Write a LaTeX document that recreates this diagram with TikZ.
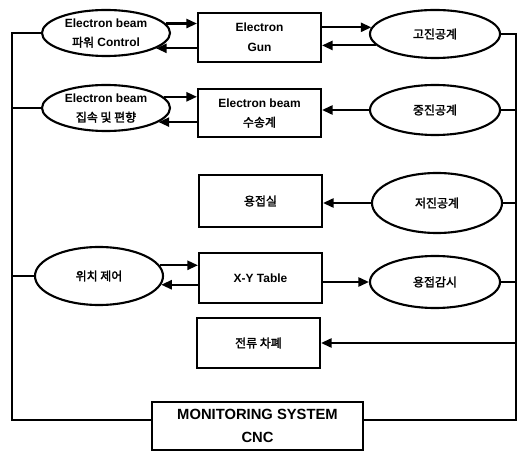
\documentclass[tikz,border=0pt]{standalone}
\usepackage{fontspec}
\setmainfont{Liberation Sans}
\newfontfamily\kr{Noto Sans CJK KR}[AutoFakeBold=2]
\usetikzlibrary{
    arrows.meta,
    shapes.geometric,
    positioning,
    calc
}
\tikzset{
    % Lines
    line style/.style={line width=1.5pt},
    arrow tip/.tip={Triangle[length=7.5pt,width=6.5pt]},
    arr/.style={line style,-{arrow tip}},
    %
    % Nodes
    block/.style={draw,line style,minimum width=3.075cm,minimum height=1.225cm,inner sep=0pt,align=center},
    oval/.style={draw,ellipse,line style,minimum width=3.2cm,minimum height=1.15cm,inner sep=0pt,align=center},
    big text/.style={font=\bfseries\fontsize{10.5}{16}\selectfont}
}
\tikzstyle{every node}=[font=\bfseries\fontsize{8.5}{14}\selectfont]

\begin{document}
\begin{tikzpicture}[x=0.025cm,y=-0.025cm]
    \useasboundingbox (0,0) rectangle (519,452);
    % left column
    \node[oval] (power) at (106,33) {Electron beam\\{\kr 파워} Control};
    \node[oval] (focus) at (106,108) {Electron beam\\{\kr 집속 및 편향}};
    \node[oval,minimum height=1.45cm] (place) at (99,276) {\kr 위치 제어};
    % middle column
    \node[block] (gun) at (259.5,37.5) {Electron\\Gun};
    \node[block,minimum height=1.2cm] (trans) at (259.5,113) {Electron beam\\{\kr 수송계}};
    \node[block,minimum height=1.3cm] (room) at (260.5,201) {\kr 용접실};
    \node[block,minimum height=1.25cm] (table) at (260.5,278) {X-Y Table};
    \node[block,minimum height=1.25cm] (cut) at (258.5,343) {\kr 전류 차폐};
    \node[block,big text,minimum width=5.275cm,minimum height=1.2cm] (cnc) at (257.5,426) {MONITORING SYSTEM\\CNC};
    % right column
    \node[oval,minimum width=3.25cm,minimum height=1.2cm] (high) at (435,34) {\kr 고진공계};
    \node[oval,minimum width=3.25cm,minimum height=1.25cm] (mid) at (435,110) {\kr 중진공계};
    \node[oval,minimum width=3.25cm,minimum height=1.5cm] (low) at (437,203) {\kr 저진공계};
    \node[oval,minimum width=3.25cm,minimum height=1.3cm] (watch) at (435,282) {\kr 용접감시};
    % bus lines
    \coordinate (lt) at (12,33);
    \coordinate (lb) at (12,420);
    \coordinate (rt) at (516,34);
    \coordinate (rb) at (516,420);

    \draw[line style] (power.west) -- (lt) -- (lb) -- (lb -| cnc.west);
    \draw[line style] (focus.west) -- (focus.west -| lb);
    \draw[line style] (place.west) -- (place.west -| lb);
    \draw[line style] (high.east) -- (rt) -- (rb) -- (rb -| cnc.east);
    \draw[line style] (mid.east) -- (mid.east -| rb);
    \draw[line style] (low.east) -- (low.east -| rb);
    \draw[line style] (watch.east) -- (watch.east -| rb);
    \draw[arr] (cut.east -| rb) -- (cut.east);

    % arrows left
    \draw[arr] (power.9) -- (power.9 -| gun.west);
    \draw[arr] (gun.west |- power.343) -- (power.343);
    \draw[arr] (focus.11) -- (focus.11 -| trans.west);
    \draw[arr] (trans.west |- focus.345) -- (focus.345);
    \draw[arr] (place.10) -- (place.10 -| table.west);
    \draw[arr] (table.west |- place.352) -- (place.352);
    % arrows right
    \draw[arr] (high.174 -| gun.east) -- (high.174);
    \draw[arr] (high.191) -- (high.191 -| gun.east);
    \draw[arr] (mid.west) -- (mid.west -| trans.east);
    \draw[arr] (low.west) -- (low.west -| room.east);
    \draw[arr] (watch.west -| table.east) -- (watch.west);
\end{tikzpicture}
\end{document}
